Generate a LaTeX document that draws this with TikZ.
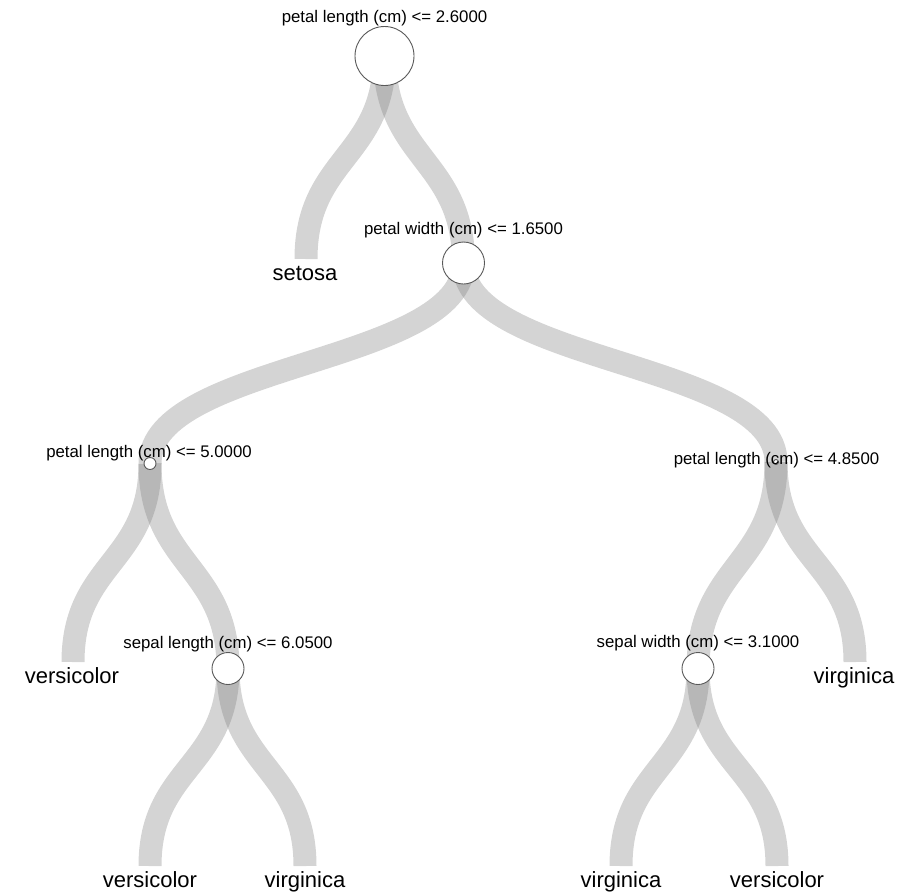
\documentclass[tikz,border=0pt]{standalone}
\usepackage{fontspec}
\setmainfont{Liberation Sans}
\usepackage{tikz}
\usetikzlibrary{calc, backgrounds}

\tikzset{
    split/.style={circle, draw=black!65, fill=white, line width=0.9pt, inner sep=0pt},
    band/.style={draw=gray, draw opacity=0.34, line width=23pt,
        to path={.. controls ($(\tikztostart)!0.5!(\tikztostart|-\tikztotarget)$)
            and ($(\tikztotarget)!0.5!(\tikztotarget|-\tikztostart)$) .. (\tikztotarget)}},
    rule/.style={inner sep=0pt, font=\fontsize{16.8}{18}\selectfont},
    leaf/.style={inner sep=0pt, anchor=base, font=\fontsize{22}{24}\selectfont}
}

\begin{document}
\begin{tikzpicture}[x=1pt, y=-1pt]
        \useasboundingbox (0,0) rectangle (904,892);
        % split nodes
        \node[split, minimum size=59pt] (root) at (384.5,56) {};
        \node[split, minimum size=42pt] (n2) at (463.5,263) {};
        \node[split, minimum size=12pt] (n3) at (150,463.5) {};
        \node[split, minimum size=5pt] (n4) at (776,462) {};
        \node[split, minimum size=32pt] (n5) at (228,668.5) {};
        \node[split, minimum size=32pt] (n6) at (698,668.5) {};
        % leaf ends
        \coordinate (setosa) at (306,259);
        \coordinate (l3a) at (73,662);
        \coordinate (l3b) at (855,662);
        \coordinate (l5a) at (150,866);
        \coordinate (l5b) at (305,866);
        \coordinate (l6a) at (621,866);
        \coordinate (l6b) at (777,866);
        \begin{scope}[on background layer]
            \foreach \parent/\child in {root/setosa, root/n2, n2/n3, n2/n4, n3/l3a, n3/n5,
                    n4/n6, n4/l3b, n5/l5a, n5/l5b, n6/l6a, n6/l6b} {
                \draw[band] (\parent.center) to (\child.center);
            }
        \end{scope}
        % rules
        \node[rule] (root label) at (384.5,18.5) {petal length (cm) <= 2.6000};
        \node[rule] (n2 label) at (463.5,230.5) {petal width (cm) <= 1.6500};
        \node[rule] (n3 label) at (149,453) {petal length (cm) <= 5.0000};
        \node[rule] (n4 label) at (776.5,460) {petal length (cm) <= 4.8500};
        \node[rule] (n5 label) at (228,644) {sepal length (cm) <= 6.0500};
        \node[rule] (n6 label) at (698,643) {sepal width (cm) <= 3.1000};
        % classes
        \node[leaf] (setosa label) at (305,280) {setosa};
        \node[leaf] (l3a label) at (72,683) {versicolor};
        \node[leaf] (l3b label) at (854,683) {virginica};
        \node[leaf] (l5a label) at (150,887) {versicolor};
        \node[leaf] (l5b label) at (305,887) {virginica};
        \node[leaf] (l6a label) at (621,887) {virginica};
        \node[leaf] (l6b label) at (777,887) {versicolor};
    \end{tikzpicture}
\end{document}
